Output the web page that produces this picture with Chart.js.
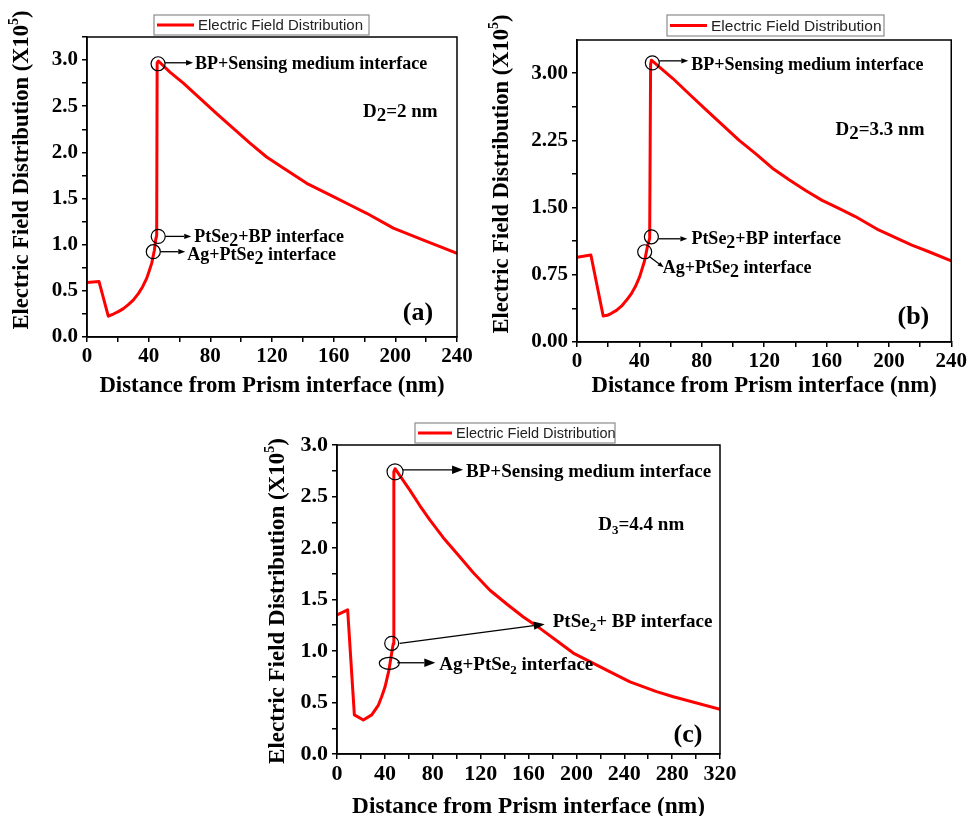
<!DOCTYPE html>
<html>
<head>
<meta charset="utf-8">
<script src="https://cdn.jsdelivr.net/npm/chart.js@4.4.1/dist/chart.umd.min.js"></script>
<style>
  html, body { margin: 0; padding: 0; background: #fff; overflow: hidden; }
  body { width: 969px; height: 816px; position: relative; }
  canvas { position: absolute; }
</style>
</head>
<body>
<canvas id="chart-a" width="480" height="400" style="left:0px;top:0px"></canvas>
<canvas id="chart-b" width="484" height="400" style="left:485px;top:0px"></canvas>
<canvas id="chart-c" width="490" height="408" style="left:250px;top:413px"></canvas>
<script>
// distance from prism interface (nm) and field (x10^5)
const distA = [0, 7.8, 13.8, 17.1, 20.3, 23.6, 26.8, 30, 33.3, 36.1, 38.7, 40.4, 42, 43.7, 44.5, 45.2, 45.5, 46.3, 53.8, 62.5, 73.3, 84.1, 94.9, 105.7, 116.5, 127.3, 142.5, 159.8, 170.6, 181.4, 198.7, 218.2, 229, 240]
const fieldA = [0.59, 0.60, 0.225, 0.249, 0.275, 0.307, 0.35, 0.40, 0.47, 0.545, 0.635, 0.718, 0.80, 0.94, 1.05, 1.10, 2.97, 2.99, 2.87, 2.75, 2.585, 2.42, 2.26, 2.10, 1.95, 1.83, 1.665, 1.52, 1.43, 1.34, 1.18, 1.05, 0.98, 0.905]

const distB = [0, 8.9, 16.8, 19.4, 22.1, 25.3, 28.5, 31.7, 34.9, 37.7, 40.2, 43.4, 45.1, 46.6, 47.2, 47.7, 61.5, 72.1, 82.8, 93.4, 104, 114.7, 125.3, 136, 146.6, 157.2, 167.9, 178.5, 193.4, 214.7, 225.3, 240]
const fieldB = [0.945, 0.97, 0.29, 0.298, 0.32, 0.353, 0.40, 0.465, 0.54, 0.628, 0.73, 0.91, 1.06, 1.16, 3.10, 3.145, 2.94, 2.765, 2.59, 2.42, 2.25, 2.10, 1.94, 1.81, 1.69, 1.58, 1.49, 1.40, 1.25, 1.08, 1.01, 0.905]

const distC = [0, 8.9, 14.5, 22, 29, 34.6, 37.3, 40.1, 41.8, 43.4, 45.7, 47, 47.5, 48.5, 61, 69.3, 77.7, 88.8, 100, 113.9, 127.8, 141.8, 155.7, 169.6, 183.6, 197.4, 225.3, 244.8, 267, 281, 320]
const fieldC = [1.35, 1.40, 0.38, 0.33, 0.38, 0.475, 0.556, 0.65, 0.735, 0.815, 0.98, 1.07, 2.74, 2.77, 2.56, 2.41, 2.27, 2.10, 1.95, 1.76, 1.59, 1.456, 1.33, 1.22, 1.10, 0.98, 0.815, 0.70, 0.605, 0.556, 0.434]

const seriesName = 'Electric Field Distribution'
const xTitle = 'Distance from Prism interface (nm)'

const serif = "'Liberation Serif', 'Times New Roman', serif"
const sans = "'Liberation Sans', Arial, sans-serif"

Chart.defaults.color = '#000'
Chart.defaults.font.family = serif

function isMultiple(v, step) {
    const q = v / step
    return Math.abs(q - Math.round(q)) < 1e-6
}

// text with "_2" style subscripts
function drawRich(ctx, text, x, y, size, subStyle, align) {
    const parts = text.split(/_(\d)/)
    const subSize = subStyle === 'small' ? Math.round(size * 0.68) : size
    const subDrop = subStyle === 'small' ? size * 0.3 : size * 0.22
    const widths = []
    let total = 0
    parts.forEach((p, i) => {
        ctx.font = `bold ${i % 2 ? subSize : size}px ${serif}`
        const w = ctx.measureText(p).width
        widths.push(w)
        total += w
    })
    let cx = align === 'center' ? x - total / 2 : x
    ctx.textAlign = 'left'
    ctx.textBaseline = 'middle'
    parts.forEach((p, i) => {
        ctx.font = `bold ${i % 2 ? subSize : size}px ${serif}`
        ctx.fillText(p, cx, i % 2 ? y + subDrop : y)
        cx += widths[i]
    })
}

// rotated y title with a raised 5
function drawYTitle(ctx, cx, cy, size) {
    const main = 'Electric Field Distribution (X10'
    const sup = '5'
    const tail = ')'
    const supSize = Math.round(size * 0.62)
    ctx.save()
    ctx.translate(cx, cy)
    ctx.rotate(-Math.PI / 2)
    ctx.textAlign = 'left'
    ctx.textBaseline = 'middle'
    ctx.font = `bold ${size}px ${serif}`
    const w1 = ctx.measureText(main).width
    const w3 = ctx.measureText(tail).width
    ctx.font = `bold ${supSize}px ${serif}`
    const w2 = ctx.measureText(sup).width
    let x0 = -(w1 + w2 + w3) / 2
    ctx.font = `bold ${size}px ${serif}`
    ctx.fillText(main, x0, 0)
    ctx.font = `bold ${supSize}px ${serif}`
    ctx.fillText(sup, x0 + w1, -size * 0.33)
    ctx.font = `bold ${size}px ${serif}`
    ctx.fillText(tail, x0 + w1 + w2, 0)
    ctx.restore()
}

function arrow(ctx, x1, y1, x2, y2, head) {
    const a = Math.atan2(y2 - y1, x2 - x1)
    const bx = x2 - head * Math.cos(a)
    const by = y2 - head * Math.sin(a)
    const hw = head * 0.38
    ctx.beginPath()
    ctx.moveTo(x1, y1)
    ctx.lineTo(bx, by)
    ctx.stroke()
    ctx.beginPath()
    ctx.moveTo(x2, y2)
    ctx.lineTo(bx + hw * Math.sin(a), by - hw * Math.cos(a))
    ctx.lineTo(bx - hw * Math.sin(a), by + hw * Math.cos(a))
    ctx.closePath()
    ctx.fill()
}

function notesPlugin(cfg) {
    return {
        id: 'notes',
        afterDatasetsDraw(chart) {
            const { ctx, chartArea: area, scales: { x, y } } = chart
            ctx.save()
            // closed frame
            ctx.strokeStyle = '#000'
            ctx.lineWidth = 1.5
            ctx.strokeRect(area.left, area.top, area.right - area.left, area.bottom - area.top)

            // legend box
            const [lx, ly, lw, lh] = cfg.legend
            ctx.strokeStyle = '#8c8c8c'
            ctx.lineWidth = 1.2
            ctx.strokeRect(lx, ly, lw, lh)
            ctx.strokeStyle = '#ff0000'
            ctx.lineWidth = 3
            ctx.beginPath()
            ctx.moveTo(lx + 3, ly + lh / 2)
            ctx.lineTo(lx + 3 + cfg.legendLine, ly + lh / 2)
            ctx.stroke()
            ctx.fillStyle = '#222'
            ctx.font = `${cfg.legendFont}px ${sans}`
            ctx.textAlign = 'left'
            ctx.textBaseline = 'middle'
            ctx.fillText(seriesName, lx + 7 + cfg.legendLine, ly + lh / 2 + 1)

            ctx.fillStyle = '#000'
            drawYTitle(ctx, cfg.yTitleAt[0], cfg.yTitleAt[1], cfg.titleFont)

            // circled interfaces with arrows
            ctx.strokeStyle = '#000'
            cfg.notes.forEach(n => {
                const px = x.getPixelForValue(n.at[0])
                const py = y.getPixelForValue(n.at[1])
                ctx.lineWidth = 1.2
                ctx.beginPath()
                ctx.ellipse(px, py, n.rx, n.ry, 0, 0, Math.PI * 2)
                ctx.stroke()
                ctx.lineWidth = 1.3
                arrow(ctx, px + n.from[0], py + n.from[1], px + n.to[0], py + n.to[1], n.head)
                drawRich(ctx, n.text, px + n.tx, py + n.ty, cfg.noteFont, cfg.sub, 'left')
            })
            cfg.labels.forEach(l => {
                drawRich(ctx, l.text, x.getPixelForValue(l.at[0]), y.getPixelForValue(l.at[1]), l.size, cfg.sub, l.align)
            })
            ctx.restore()
        }
    }
}

function makePanel(id, dist, field, cfg) {
    const points = dist.map((d, i) => ({ x: d, y: field[i] }))
    const axisLine = { display: true, color: '#000', width: 1.5 }
    const grid = { drawOnChartArea: false, drawTicks: true, tickLength: 5, color: '#000', lineWidth: 1.5 }
    return new Chart(document.getElementById(id), {
        type: 'line',
        data: {
            datasets: [{
                label: seriesName,
                data: points,
                borderColor: '#ff0000',
                borderWidth: 3,
                pointRadius: 0,
                tension: 0,
                borderJoinStyle: 'round',
                fill: false
            }]
        },
        options: {
            responsive: false,
            animation: false,
            events: [],
            layout: { padding: cfg.padding },
            plugins: { legend: { display: false }, tooltip: { enabled: false } },
            scales: {
                x: {
                    type: 'linear',
                    min: 0,
                    max: cfg.xMax,
                    afterFit: s => { s.height = cfg.xHeight },
                    ticks: {
                        stepSize: 20,
                        autoSkip: false,
                        maxRotation: 0,
                        padding: 2,
                        font: { size: cfg.tickFont, weight: 'bold' },
                        callback: v => isMultiple(v, 40) ? String(v) : ''
                    },
                    grid: grid,
                    border: axisLine,
                    title: {
                        display: true,
                        text: xTitle,
                        font: { size: cfg.xTitleFont, weight: 'bold' },
                        padding: { top: 0, bottom: 0 }
                    }
                },
                y: {
                    min: 0,
                    max: cfg.yMax,
                    afterFit: s => { s.width = cfg.yWidth },
                    ticks: {
                        stepSize: cfg.yStep / 2,
                        autoSkip: false,
                        includeBounds: false,
                        padding: 4,
                        font: { size: cfg.tickFont, weight: 'bold' },
                        callback: v => isMultiple(v, cfg.yStep) ? v.toFixed(cfg.yDec) : ''
                    },
                    grid: grid,
                    border: axisLine,
                    title: { display: false }
                }
            }
        },
        plugins: [notesPlugin(cfg)]
    })
}

makePanel('chart-a', distA, fieldA, {
    padding: { left: 0, top: 37, right: 23, bottom: 0 },
    xHeight: 63, yWidth: 87, yTitleAt: [22, 170],
    tickFont: 21, titleFont: 22.5, xTitleFont: 22.8,
    xMax: 240, yMax: 3.25, yStep: 0.5, yDec: 1,
    legend: [154, 15, 215, 20], legendLine: 37, legendFont: 15,
    noteFont: 18, sub: 'low',
    notes: [
        { at: [46.1, 2.96], rx: 7, ry: 7, from: [7, -1], to: [35, -1], head: 7, text: 'BP+Sensing medium interface', tx: 37, ty: 1 },
        { at: [46.2, 1.09], rx: 7, ry: 7, from: [7, 0], to: [33, 0], head: 7, text: 'PtSe_2+BP interface', tx: 36, ty: 1 },
        { at: [43.0, 0.924], rx: 7, ry: 7, from: [7, 0], to: [32, 0], head: 7, text: 'Ag+PtSe_2 interface', tx: 34, ty: 4 }
    ],
    labels: [
        { at: [179, 2.44], text: 'D_2=2 nm', size: 19, align: 'left' },
        { at: [214.7, 0.26], text: '(a)', size: 26, align: 'center' }
    ]
})

makePanel('chart-b', distB, fieldB, {
    padding: { left: 0, top: 40, right: 16, bottom: 0 },
    xHeight: 58, yWidth: 92, yTitleAt: [17, 174],
    tickFont: 21, titleFont: 22.5, xTitleFont: 22.8,
    xMax: 240, yMax: 3.37, yStep: 0.75, yDec: 2,
    legend: [182, 15, 217, 21], legendLine: 37, legendFont: 15.5,
    noteFont: 18, sub: 'low',
    notes: [
        { at: [48.3, 3.115], rx: 7, ry: 7, from: [7, -2], to: [36, -2], head: 7, text: 'BP+Sensing medium interface', tx: 39, ty: 2 },
        { at: [47.7, 1.174], rx: 7, ry: 7, from: [7, 2], to: [36, 2], head: 7, text: 'PtSe_2+BP interface', tx: 40, ty: 2.6 },
        { at: [43.4, 1.007], rx: 7, ry: 7, from: [5, 5], to: [19, 15.6], head: 6, text: 'Ag+PtSe_2 interface', tx: 18, ty: 16.6 }
    ],
    labels: [
        { at: [165.8, 2.37], text: 'D_2=3.3 nm', size: 19, align: 'left' },
        { at: [215.7, 0.28], text: '(b)', size: 26, align: 'center' }
    ]
})

makePanel('chart-c', distC, fieldC, {
    padding: { left: 0, top: 32, right: 20, bottom: 0 },
    xHeight: 67, yWidth: 87, yTitleAt: [28, 188],
    tickFont: 22, titleFont: 23, xTitleFont: 23.3,
    xMax: 320, yMax: 3.0, yStep: 0.5, yDec: 1,
    legend: [165, 10, 200, 20], legendLine: 34, legendFont: 14.5,
    noteFont: 19, sub: 'small',
    notes: [
        { at: [48.5, 2.74], rx: 8, ry: 8, from: [8, -2], to: [68, -2], head: 11, text: 'BP+Sensing medium interface', tx: 71, ty: 0 },
        { at: [45.7, 1.075], rx: 7, ry: 7, from: [8, 0], to: [153, -19], head: 11, text: 'PtSe_2+ BP interface', tx: 161, ty: -21.6 },
        { at: [43.7, 0.88], rx: 10, ry: 6, from: [8, -0.6], to: [46, -0.6], head: 11, text: 'Ag+PtSe_2 interface', tx: 50, ty: 1.7 }
    ],
    labels: [
        { at: [218.3, 2.22], text: 'D_3=4.4 nm', size: 19, align: 'left' },
        { at: [293.3, 0.18], text: '(c)', size: 26, align: 'center' }
    ]
})
</script>
</body>
</html>
